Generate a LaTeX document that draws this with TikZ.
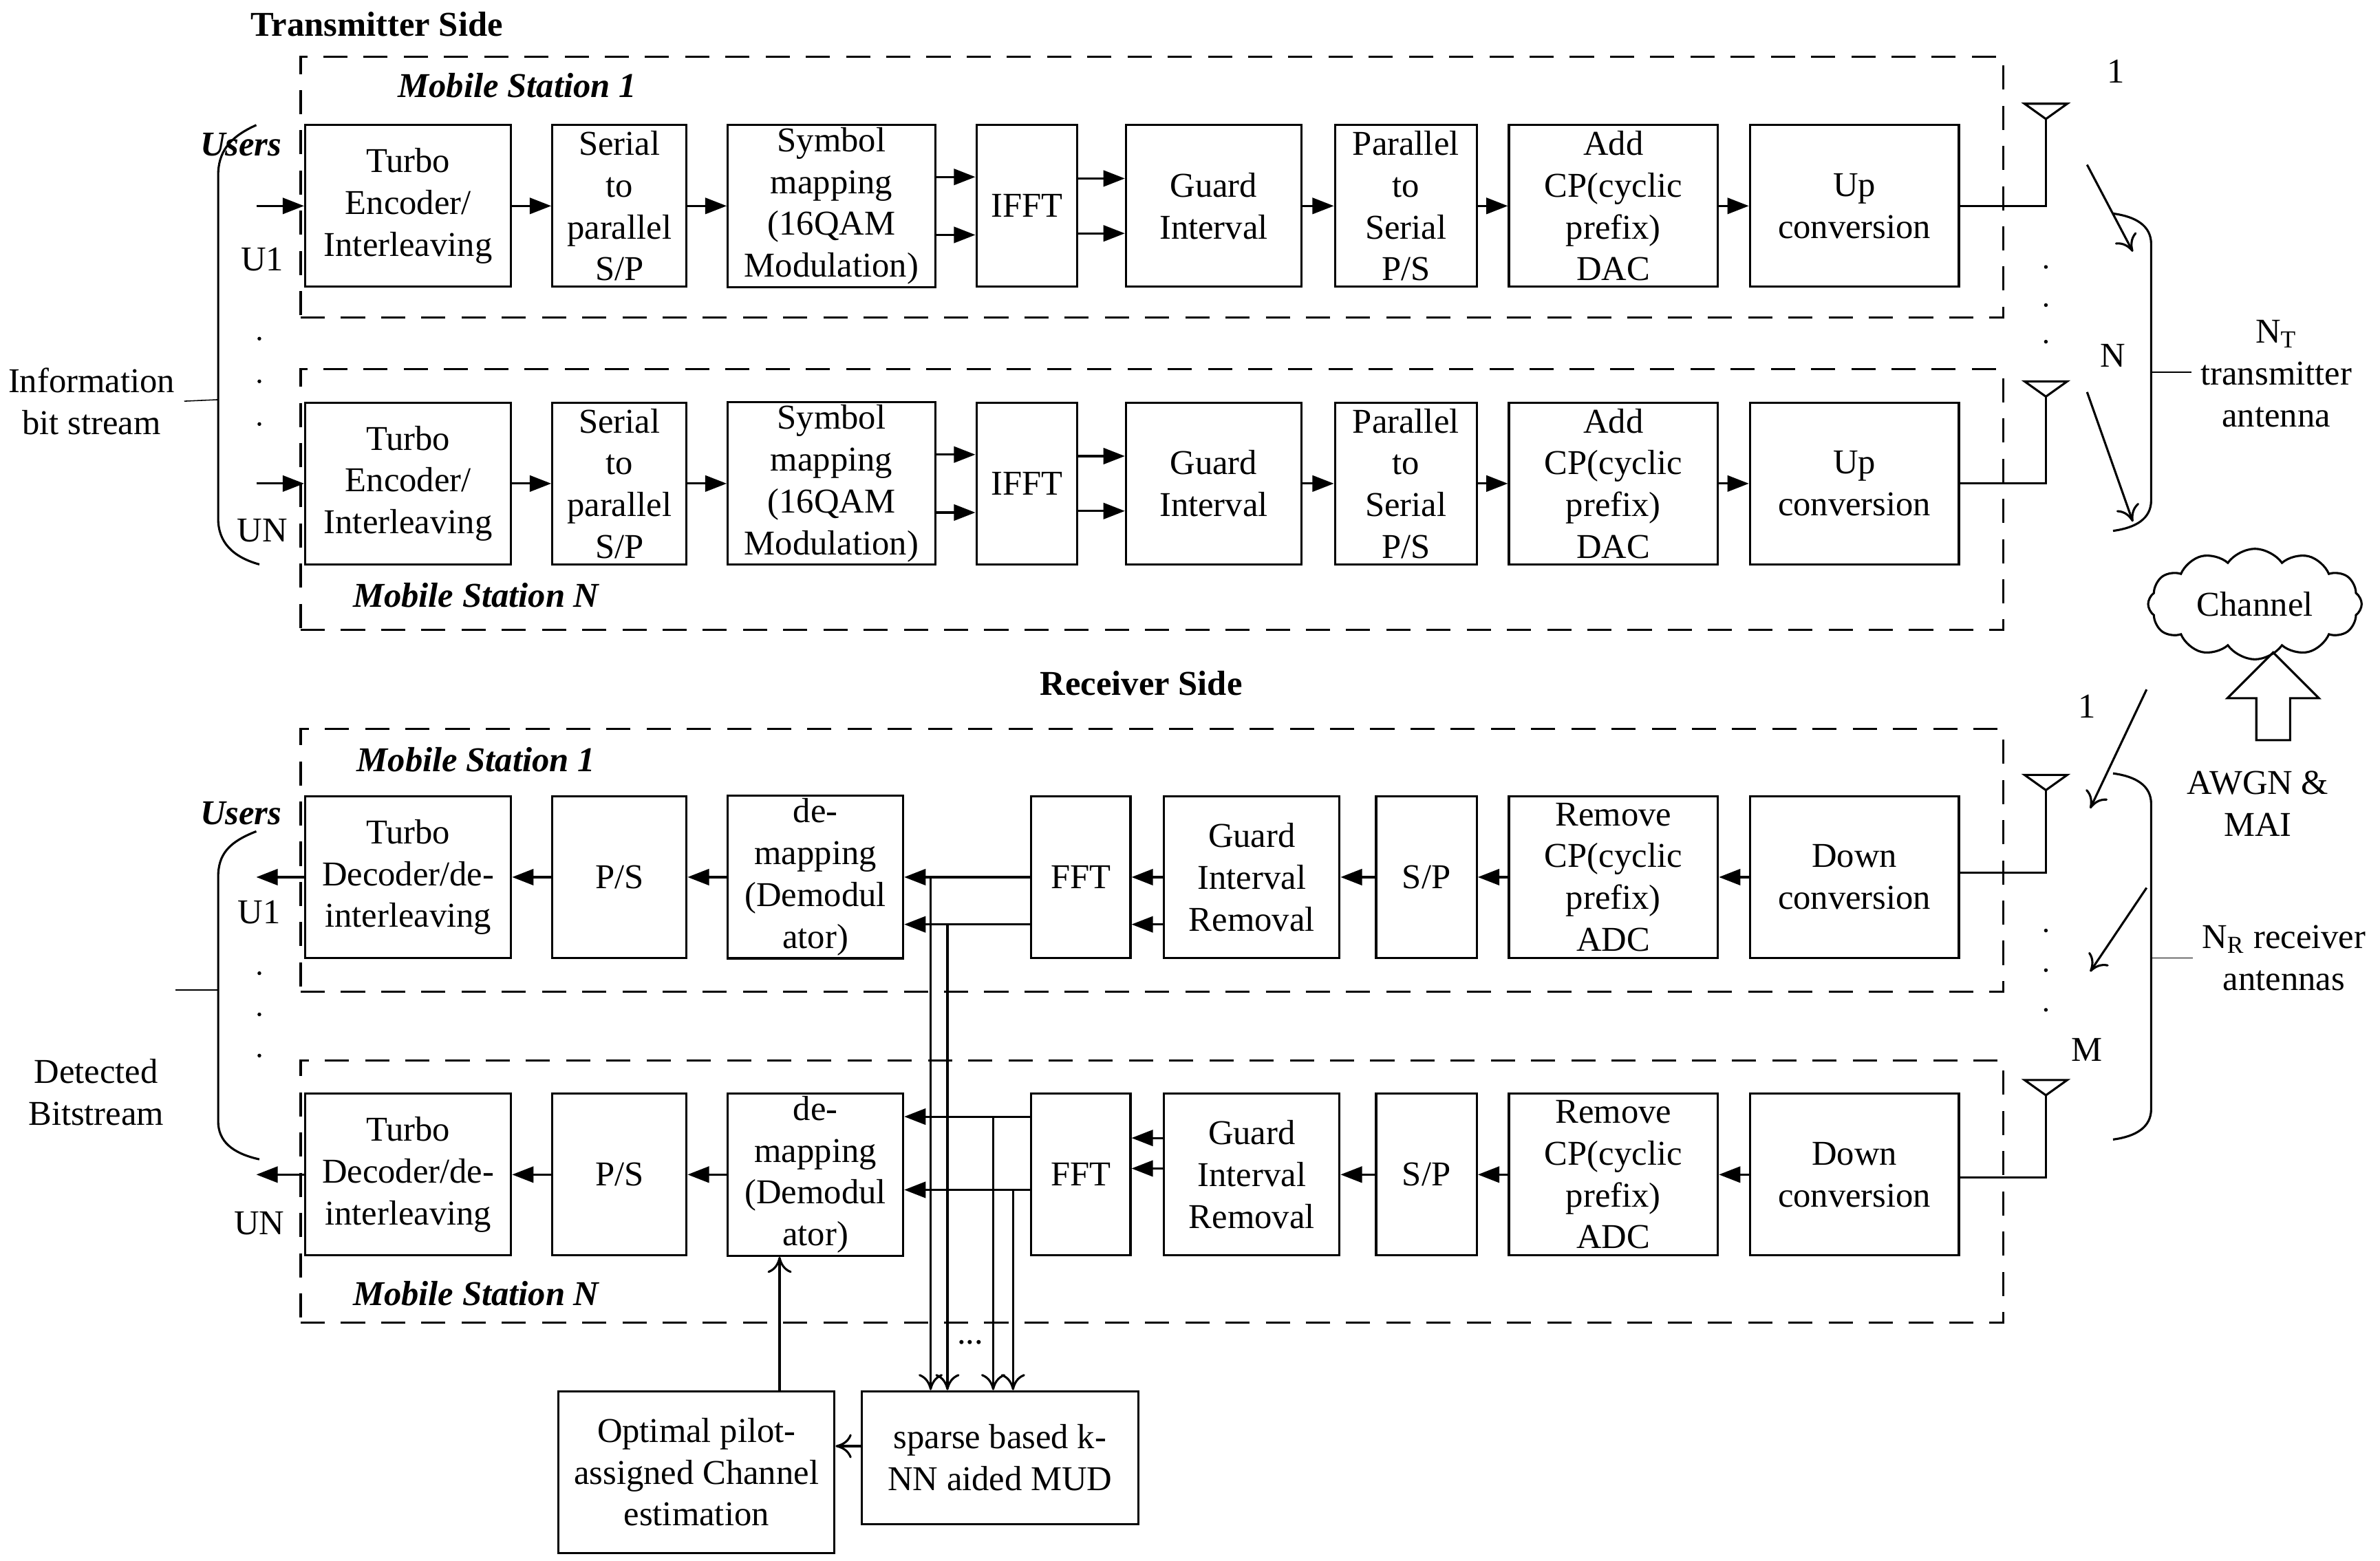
\documentclass[tikz,border=0pt]{standalone}
\usepackage{fontspec}
\setmainfont{Liberation Serif}
\usetikzlibrary{arrows.meta,calc,shapes.symbols,shapes.arrows}
\newcommand{\heightblock}{2.12cm}
\newcommand{\bodyfont}{\fontsize{13}{15.6}\selectfont}
\tikzset{
    blk/.style={draw, thick, rectangle, align=center, inner sep=1pt, minimum height=\heightblock},
    grp/.style={draw, thick, dashed, dash pattern=on 9pt off 6pt},
    title/.style={font=\bodyfont\bfseries},
    station/.style={font=\bodyfont\bfseries\itshape},
    sig/.style={-{Triangle[length=8pt,width=6pt]}, thick},
    mud/.style={-{To[length=6pt,width=9pt]}, thick},
    ant/.style={draw, thick}
}
\begin{document}
\begin{tikzpicture}[x=0.02cm, y=-0.02cm, font=\bodyfont]
\useasboundingbox (0,0) rectangle (1560,1023);

% transmitter side
\node[title] (txtitle) at (247,16) {Transmitter Side};
\node[grp, minimum width=22.32cm, minimum height=3.42cm] (txbox1) at (755,122.5) {};
\node[grp, minimum width=22.32cm, minimum height=3.42cm] (txboxn) at (755,327.5) {};
\node[station] (ms1t) at (339,56) {Mobile Station 1};
\node[station] (msnt) at (312,390) {Mobile Station N};

\foreach \r/\y in {1/135,n/317}{
    \node[blk, minimum width=2.7cm]  (enc\r) at (267.5,\y) {Turbo\\Encoder/\\Interleaving};
    \node[blk, minimum width=1.76cm] (sp\r)  at (406,\y)   {Serial\\to\\parallel\\S/P};
    \node[blk, minimum width=2.72cm] (map\r) at (545,\y)   {Symbol\\mapping\\(16QAM\\Modulation)};
    \node[blk, minimum width=1.32cm] (ifft\r) at (673,\y)  {IFFT};
    \node[blk, minimum width=2.3cm]  (gi\r)  at (795.5,\y) {Guard\\Interval};
    \node[blk, minimum width=1.86cm] (ps\r)  at (921.5,\y) {Parallel\\to\\Serial\\P/S};
    \node[blk, minimum width=2.74cm] (cp\r)  at (1057.5,\y) {Add\\CP(cyclic\\prefix)\\DAC};
    \node[blk, minimum width=2.74cm] (up\r)  at (1215.5,\y) {Up\\conversion};
    \coordinate (in\r) at (168,\y);
    \draw[sig] (in\r) -- (enc\r);
    \draw[sig] (enc\r) -- (sp\r);
    \draw[sig] (sp\r) -- (map\r);
    \draw[sig] ([yshift=0.38cm]map\r.east) -- ([yshift=0.38cm]ifft\r.west);
    \draw[sig] ([yshift=-0.38cm]map\r.east) -- ([yshift=-0.38cm]ifft\r.west);
    \draw[sig] ([yshift=0.36cm]ifft\r.east) -- ([yshift=0.36cm]gi\r.west);
    \draw[sig] ([yshift=-0.36cm]ifft\r.east) -- ([yshift=-0.36cm]gi\r.west);
    \draw[sig] (gi\r) -- (ps\r);
    \draw[sig] (ps\r) -- (cp\r);
    \draw[sig] (cp\r) -- (up\r);
}
\node (u1t) at (172,170) {U1};
\node (unt) at (172,348) {UN};
\node[station] (userst) at (158,95) {Users};
\foreach \yy in {222,250,278} \fill (170,\yy) circle (0.7pt);
\draw[thick] (168,82) .. controls (150,90) and (143,100) .. (143,115) -- (143,340) .. controls (143,355) and (152,365) .. (170,370);
\coordinate (infoend) at (143,262);
\node[align=center] (info) at (60,263) {Information\\bit stream};
\draw (info.east) -- (infoend);

% transmit antennas
\foreach \r/\ta/\y in {1/68/135,n/250/317}{
    \coordinate (tant\r) at (1341,\ta);
    \draw[ant] (1327,\ta) -- (1355,\ta) -- (1341,\ta+10) -- cycle;
    \draw[thick] (1341,\ta+10) -- (1341,\y) -- (up\r.east |- 0,\y);
}
\foreach \yy in {175,200,224} \fill (1341,\yy) circle (0.7pt);
\node (t1) at (1387,47) {1};
\node (tn) at (1385,233) {N};
\draw[mud] (1368,108) -- (1398,165);
\draw[mud] (1368,257) -- (1398,342);
\draw[thick] (1385,140) .. controls (1400,142) and (1410,148) .. (1410,160) -- (1410,328) .. controls (1410,340) and (1400,346) .. (1385,348);
\node[align=center] (nt) at (1492,245) {N\textsubscript{T}\\transmitter\\antenna};
\draw (1410,244) -- (nt.west |- 0,244);

% channel
\node[cloud, draw, thick, cloud puffs=12, cloud puff arc=110, aspect=2, minimum width=2.8cm, minimum height=1.45cm, inner sep=0pt] (chan) at (1478,396) {Channel};
\node[single arrow, draw, thick, shape border rotate=90, minimum width=1.2cm, single arrow head extend=0.28cm, minimum height=1.15cm, inner sep=0.15cm] (noise) at (1490,462) {};
\node[align=center] (awgn) at (1480,527) {AWGN \&\\MAI};

% receiver side
\node[title] (rxtitle) at (748,448) {Receiver Side};
\node[grp, minimum width=22.32cm, minimum height=3.44cm] (rxbox1) at (755,564) {};
\node[grp, minimum width=22.32cm, minimum height=3.44cm] (rxboxn) at (755,781) {};
\node[station] (ms1r) at (312,498) {Mobile Station 1};
\node[station] (msnr) at (312,848) {Mobile Station N};

\foreach \r/\y in {1/575,n/770}{
    \node[blk, minimum width=2.7cm]  (dec\r) at (267.5,\y) {Turbo\\Decoder/de-\\interleaving};
    \node[blk, minimum width=1.76cm] (rps\r) at (406,\y)   {P/S};
    \node[blk, minimum width=2.3cm]  (dem\r) at (534.5,\y) {de-\\mapping\\(Demodul\\ator)};
    \node[blk, minimum width=1.3cm]  (fft\r) at (708.5,\y) {FFT};
    \node[blk, minimum width=2.3cm]  (gr\r)  at (820.5,\y) {Guard\\Interval\\Removal};
    \node[blk, minimum width=1.32cm] (rsp\r) at (935,\y) {S/P};
    \node[blk, minimum width=2.74cm] (rcp\r) at (1057.5,\y) {Remove\\CP(cyclic\\prefix)\\ADC};
    \node[blk, minimum width=2.74cm] (down\r) at (1215.5,\y) {Down\\conversion};
    \coordinate (out\r) at (168,\y);
    \draw[sig] (dec\r) -- (out\r);
    \draw[sig] (rps\r) -- (dec\r);
    \draw[sig] (dem\r) -- (rps\r);
    \draw[sig] (rsp\r) -- (gr\r);
    \draw[sig] (rcp\r) -- (rsp\r);
    \draw[sig] (down\r) -- (rcp\r);
}
\draw[sig] (gr1.west) -- (fft1.east);
\draw[sig] ([yshift=-0.62cm]gr1.west) -- ([yshift=-0.62cm]fft1.east);
\draw[sig] ([yshift=0.48cm]grn.west) -- ([yshift=0.48cm]fftn.east);
\draw[sig] ([yshift=0.08cm]grn.west) -- ([yshift=0.08cm]fftn.east);
\draw[sig] (fft1.west) -- (dem1.east);
\draw[sig] ([yshift=-0.62cm]fft1.west) -- ([yshift=-0.62cm]dem1.east);
\draw[sig] ([yshift=0.76cm]fftn.west) -- ([yshift=0.76cm]demn.east);
\draw[sig] ([yshift=-0.2cm]fftn.west) -- ([yshift=-0.2cm]demn.east);

\node[draw, thick, minimum width=3.62cm, minimum height=1.74cm, align=center] (mud) at (655.5,955.5) {sparse based k-\\NN aided MUD};
\node[draw, thick, minimum width=3.62cm, minimum height=2.12cm, align=center] (chest) at (456.5,965) {Optimal pilot-\\assigned Channel\\estimation};
\draw[mud] (610,575) -- (mud.north -| 610,0);
\draw[mud] (621,606) -- (mud.north -| 621,0);
\draw[mud] (651,732) -- (mud.north -| 651,0);
\draw[mud] (664,780) -- (mud.north -| 664,0);
\node (mdots) at (636,880) {...};
\draw[mud] (mud.west |- 0,948) -- (chest.east |- 0,948);
\draw[mud] (chest.north -| 511,0) -- (demn.south -| 511,0);

\node (u1r) at (170,598) {U1};
\node (unr) at (170,802) {UN};
\node[station] (usersr) at (158,533) {Users};
\foreach \yy in {638,665,692} \fill (170,\yy) circle (0.7pt);
\draw[thick] (168,545) .. controls (150,552) and (143,560) .. (143,575) -- (143,735) .. controls (143,748) and (152,756) .. (170,760);
\coordinate (detend) at (143,649);
\node[align=center] (det) at (63,716) {Detected\\Bitstream};
\draw (115,649) -- (detend);

% receive antennas
\foreach \r/\ta/\y in {1/508/572,n/708/772}{
    \coordinate (rant\r) at (1341,\ta);
    \draw[ant] (1327,\ta) -- (1355,\ta) -- (1341,\ta+10) -- cycle;
    \draw[thick] (1341,\ta+10) -- (1341,\y) -- (down\r.east |- 0,\y);
}
\foreach \yy in {610,636,662} \fill (1341,\yy) circle (0.7pt);
\node (r1) at (1368,463) {1};
\node (rm) at (1368,688) {M};
\draw[mud] (1407,452) -- (1370,530);
\draw[mud] (1407,582) -- (1370,637);
\draw[thick] (1385,507) .. controls (1400,509) and (1410,515) .. (1410,527) -- (1410,727) .. controls (1410,739) and (1400,745) .. (1385,747);
\node[align=center] (nr) at (1497,628) {N\textsubscript{R} receiver\\antennas};
\draw (1410,628) -- (nr.west |- 0,628);
\end{tikzpicture}
\end{document}
